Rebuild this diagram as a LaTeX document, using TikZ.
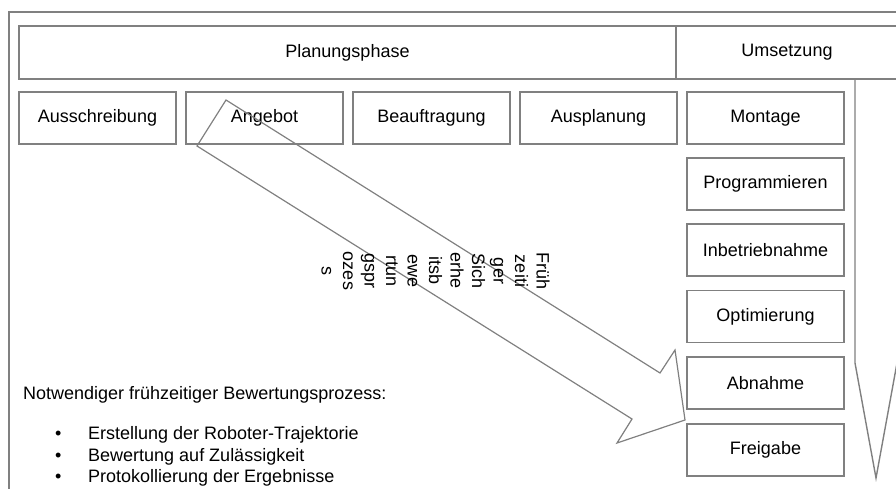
\documentclass[tikz,border=0pt]{standalone}
\usepackage{fontspec}
\setmainfont{Liberation Sans}
\definecolor{rahmen}{RGB}{128,128,128}

\begin{document}
\begin{tikzpicture}[x=1pt,y=-1pt,
  every node/.style={font=\fontsize{18}{21.5}\selectfont},
  phase/.style={draw=rahmen,line width=1.4pt,minimum width=157pt,minimum height=52pt,inner sep=0pt},
  linie/.style={draw=rahmen,line width=1.4pt}]
\useasboundingbox (0,0) rectangle (896,489);
\clip (0,0) rectangle (896,489);
% Rahmen
\draw[linie] (9,12) rectangle (910,500);
% Kopfzeile
\node[phase,minimum width=657pt,minimum height=53pt] (plan) at (347.5,52.5) {Planungsphase};
\node[phase,minimum width=222pt,minimum height=53pt] (umsetz) at (787,52.5) {Umsetzung};
% Planung
\node[phase] (ausschr) at (97.5,118) {Ausschreibung};
\node[phase] (angebot) at (264.5,118) {Angebot};
\node[phase] (beauftr) at (431.5,118) {Beauftragung};
\node[phase] (auspl) at (598.5,118) {Ausplanung};
% Umsetzung
\node[phase] (montage) at (765.5,118) {Montage};
\node[phase] (progr) at (765.5,184) {Programmieren};
\node[phase] (inbetr) at (765.5,250) {Inbetriebnahme};
\node[phase] (optim) at (765.5,316.5) {Optimierung};
\node[phase] (abnahme) at (765.5,383) {Abnahme};
\node[phase] (freigabe) at (765.5,450) {Freigabe};
% Pfeil nach unten
\draw[linie] (855,79) -- (855,363) -- (876,478) -- (897,363) -- (897,79);
% Pfeil schraeg
\draw[linie,line width=1.2pt] (226,100) -- (660,373) -- (675,350) -- (685,420)
  -- (617,443) -- (632,419) -- (197,146) -- cycle;
\node[rotate=-90,align=center,inner sep=0pt] (frueh) at (435.5,271)
  {Früh\\zeiti\\ger\\Sich\\erhe\\itsb\\ewe\\rtun\\gspr\\ozes\\s};
% Text unten
\node[anchor=west,inner sep=0pt] (notw) at (23,395) {Notwendiger frühzeitiger Bewertungsprozess:};
\node[anchor=west,align=left,inner sep=0pt] (liste) at (55,456.5)
  {\makebox[33pt][l]{\textbullet}Erstellung der Roboter-Trajektorie\\
   \makebox[33pt][l]{\textbullet}Bewertung auf Zulässigkeit\\
   \makebox[33pt][l]{\textbullet}Protokollierung der Ergebnisse};
\end{tikzpicture}
\end{document}
